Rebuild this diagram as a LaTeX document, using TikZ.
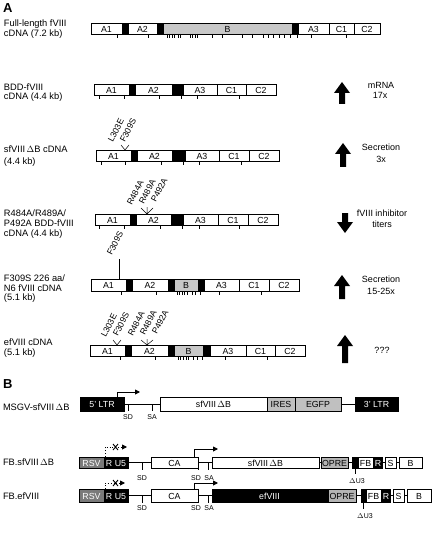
\documentclass[tikz,border=0pt]{standalone}
\usepackage{fontspec}
\setmainfont{Liberation Sans}
\usetikzlibrary{arrows.meta}
\definecolor{gB}{HTML}{C8C8C8}
\definecolor{gI}{HTML}{C0C0C0}
\definecolor{gO}{HTML}{B4B4B4}
\definecolor{gR}{HTML}{7A7A7A}
\newcommand\drawrow[3]{%
  \foreach \xa/\xb/\fc/\tx/\tc in {#3}{%
    \draw[seg, fill=\fc] (\xa,#1) rectangle (\xb,#2);
    \node[boxt, text=\tc] at ({(\xa+\xb)/2},{(#1+#2)/2+0.6}) {\tx};
  }}
\newcommand\ticks[3]{\foreach \p in {#3}{\draw[tk] (\p,#1) -- (\p,#2);}}
\newcommand\bigup[3]{\fill (#1-8,#2+11) -- (#1,#2) -- (#1+8,#2+11) -- (#1+3,#2+11) -- (#1+3,#3) -- (#1-3,#3) -- (#1-3,#2+11) -- cycle;}
\newcommand\bigdown[3]{\fill (#1-8,#3-11) -- (#1,#3) -- (#1+8,#3-11) -- (#1+3,#3-11) -- (#1+3,#2) -- (#1-3,#2) -- (#1-3,#3-11) -- cycle;}
\begin{document}
\begin{tikzpicture}[x=1pt,y=-1pt,
  every node/.style={inner sep=0pt, outer sep=0pt},
  lbl/.style={anchor=west, font=\fontsize{9.3}{10}\selectfont},
  boxt/.style={font=\fontsize{8.8}{9}\selectfont},
  rt/.style={font=\fontsize{9}{10}\selectfont},
  mut/.style={rotate=63, anchor=south west, font=\fontsize{8.6}{9}\selectfont},
  sml/.style={font=\fontsize{7}{8}\selectfont},
  pan/.style={anchor=west, font=\fontsize{13}{14}\selectfont\bfseries},
  seg/.style={draw=black, line width=0.8pt},
  tk/.style={line width=0.8pt},
  bent/.style={line width=0.9pt, -{Triangle[length=5pt,width=5pt]}},
  dbent/.style={line width=0.9pt, dotted, -{Triangle[length=5pt,width=5pt]}}]
\useasboundingbox (0,0) rectangle (432,540);
\fill[white] (0,0) rectangle (432,540);

% ---------------- Panel A
\node[pan] (pA) at (3,8) {A};

% Row 1
\node[lbl] (l1a) at (4,24) {Full-length fVIII};
\node[lbl] (l1b) at (4,34) {cDNA (7.2 kb)};
\drawrow{23}{34}{91/122/white/A1/black, 122/128/black//black, 128/157/white/A2/black, 157/163/black//black, 163/292/gB/B/black, 292/298/black//black, 298/329/white/A3/black, 329/354/white/C1/black, 354/380/white/C2/black}
\ticks{34}{38}{117,148,167,169,172,174,178,180,190,192,195,197,212,222,242,252,263,268,273,279,284,290,297,311,346}

% Row 2
\node[lbl] (l2a) at (4,87) {BDD-fVIII};
\node[lbl] (l2b) at (4,97) {cDNA (4.4 kb)};
\drawrow{84}{95}{94/129/white/A1/black, 129/135/black//black, 135/172/white/A2/black, 172/183/black//black, 183/217/white/A3/black, 217/246/white/C1/black, 246/276/white/C2/black}
\ticks{95}{99}{99,124,159,181,197,239}
\bigup{342}{82}{104}
\node[rt] (r2a) at (381,85) {mRNA};
\node[rt] (r2b) at (380,95) {17x};

% Row 3
\node[lbl] (l3a) at (4,149) {sfVIII\,$\Delta$B cDNA};
\node[lbl] (l3b) at (4,162) {(4.4 kb)};
\drawrow{150}{161}{96/131/white/A1/black, 131/137/black//black, 137/172/white/A2/black, 172/185/black//black, 185/219/white/A3/black, 219/249/white/C1/black, 249/279/white/C2/black}
\ticks{161}{165}{101,125,161,183,199,241}
\node[mut] (m3a) at (113,143) {L303E};
\node[mut] (m3b) at (125,143) {F309S};
\coordinate (c3) at (125,150);
\draw[tk, line width=0.5pt] (121,145) -- (c3) -- (129,145);
\bigup{343}{143}{167}
\node[rt] (r3a) at (381,147) {Secretion};
\node[rt] (r3b) at (381,159) {3x};

% Row 4
\node[lbl] (l4a) at (4,213) {R484A/R489A/};
\node[lbl] (l4b) at (4,223.5) {P492A BDD-fVIII};
\node[lbl] (l4c) at (4,234) {cDNA (4.4 kb)};
\drawrow{214}{225}{95/130/white/A1/black, 130/136/black//black, 136/171/white/A2/black, 171/183/black//black, 183/218/white/A3/black, 218/248/white/C1/black, 248/278/white/C2/black}
\ticks{225}{229}{99,124,160,182,199,239}
\node[mut] (m4a) at (132,206) {R484A};
\node[mut] (m4b) at (144,205) {R489A};
\node[mut] (m4c) at (156,203) {P492A};
\coordinate (c4) at (147,214);
\draw[tk, line width=0.5pt] (141,208) -- (c4) -- (153,208) (147,207) -- (c4);
\bigdown{345}{213}{233}
\node[rt] (r4a) at (382,213) {fVIII inhibitor};
\node[rt] (r4b) at (382,224) {titers};

% Row 5
\node[lbl] (l5a) at (4,278) {F309S 226 aa/};
\node[lbl] (l5b) at (4,288) {N6 fVIII cDNA};
\node[lbl] (l5c) at (4,298) {(5.1 kb)};
\drawrow{279}{291}{91/126/white/A1/black, 126/132/black//black, 132/168/white/A2/black, 168/174/black//black, 174/198/gB/B/black, 198/204/black//black, 204/239/white/A3/black, 239/269/white/C1/black, 269/299/white/C2/black}
\ticks{291}{295}{121,156,177,179,182,184,187,192,195,200,219,261}
\node[mut] (m5a) at (112,256) {F309S};
\coordinate (c5) at (119,279);
\draw[tk, line width=0.5pt] (119,259) -- (c5);
\bigup{342}{275}{299}
\node[rt] (r5a) at (381,279) {Secretion};
\node[rt] (r5b) at (381,291) {15-25x};

% Row 6
\node[lbl] (l6a) at (4,342) {efVIII cDNA};
\node[lbl] (l6b) at (4,353) {(5.1 kb)};
\drawrow{345}{356}{90/125/white/A1/black, 125/131/black//black, 131/168/white/A2/black, 168/174/black//black, 174/203/gB/B/black, 203/210/black//black, 210/246/white/A3/black, 246/275/white/C1/black, 275/305/white/C2/black}
\ticks{356}{360}{120,155,178,180,183,186,188,193,197,202,225,267}
\node[mut] (m6a) at (106,338) {L303E};
\node[mut] (m6b) at (118,337) {F309S};
\node[mut] (m6c) at (133,337) {R484A};
\node[mut] (m6d) at (145,336) {R489A};
\node[mut] (m6e) at (157,335) {P492A};
\coordinate (c6a) at (117,345);
\coordinate (c6b) at (147,345);
\draw[tk, line width=0.5pt] (113,340) -- (c6a) -- (121,340);
\draw[tk, line width=0.5pt] (141,340) -- (c6b) -- (153,340) (147,339) -- (c6b);
\bigup{345}{335}{363}
\node[rt] (r6a) at (382,350) {???};

% ---------------- Panel B
\node[pan] (pB) at (3,384) {B};

% MSGV
\node[lbl] (lm) at (3,407) {MSGV-sfVIII\,$\Delta$B};
\draw[tk] (124,404) -- (160,404) (341,404) -- (355,404);
\draw[tk] (128,404) -- (128,411) (152,404) -- (152,411);
\node[sml] (sd0) at (128,417) {SD};
\node[sml] (sa0) at (152,417) {SA};
\drawrow{397}{411}{80/124/black/5' LTR/white, 160/267/white/sfVIII\,$\Delta$B/black, 267/295/gI/IRES/black, 295/341/gI/EGFP/black, 355/398/black/3' LTR/white}
\coordinate (pm) at (117,397);
\coordinate (pm2) at (140,392);
\draw[bent] (pm) -- (117,392) -- (pm2);

% FB.sfVIIIdB
\node[lbl] (lf1) at (3,462) {FB.sfVIII\,$\Delta$B};
\draw[tk] (128,462.5) -- (151,462.5) (198,462.5) -- (212,462.5) (319,462.5) -- (321,462.5) (348,462.5) -- (352,462.5) (382,462.5) -- (385,462.5) (396,462.5) -- (399,462.5);
\draw[tk] (142,462.5) -- (142,470) (198,468) -- (198,470) (208,462.5) -- (208,470) (355,468) -- (355,474);
\node[sml] (sd1) at (142,478) {SD};
\node[sml] (sd2) at (196,478) {SD};
\node[sml] (sa1) at (209,478) {SA};
\node[sml] (du1) at (357,481) {$\Delta$U3};
\drawrow{457}{468}{79/104/gR/RSV/white, 104/128/black/R U5/white, 151/198/white/CA/black, 212/319/white/sfVIII\,$\Delta$B/black, 321/348/gO/OPRE/black, 352/358/black//white, 358/373/white/FB/black, 374/382/black/R/white, 385/396/white/S/black, 399/422/white/B/black}
\coordinate (x1) at (105,457);
\coordinate (x1e) at (127,447);
\draw[dbent] (x1) -- (105,447) -- (x1e);
\draw[line width=0.9pt] (113,444) -- (118,450) (113,450) -- (118,444);
\coordinate (ca1) at (194,457);
\coordinate (ca1e) at (218,449);
\draw[bent] (ca1) -- (194,449) -- (ca1e);

% FB.efVIII
\node[lbl] (lf2) at (3,496) {FB.efVIII};
\draw[tk] (128,495.5) -- (151,495.5) (198,495.5) -- (212,495.5) (356,495.5) -- (361,495.5) (390,495.5) -- (393,495.5) (404,495.5) -- (407,495.5);
\draw[tk] (142,495.5) -- (142,503) (198,502) -- (198,503) (208,495.5) -- (208,503) (363,502) -- (363,509);
\node[sml] (sd3) at (142,508) {SD};
\node[sml] (sd4) at (196,508) {SD};
\node[sml] (sa2) at (209,508) {SA};
\node[sml] (du2) at (365,516) {$\Delta$U3};
\drawrow{489}{502}{79/104/gR/RSV/white, 104/128/black/R U5/white, 151/198/white/CA/black, 212/327/black/efVIII/white, 328/356/gO/OPRE/black, 361/366/black//white, 366/381/white/FB/black, 382/390/black/R/white, 393/404/white/S/black, 407/431/white/B/black}
\coordinate (x2) at (105,489);
\coordinate (x2e) at (125,483);
\draw[dbent] (x2) -- (105,483) -- (x2e);
\draw[line width=0.9pt] (113,480) -- (118,486) (113,486) -- (118,480);
\coordinate (ca2) at (194,489);
\coordinate (ca2e) at (218,483);
\draw[bent] (ca2) -- (194,483) -- (ca2e);
\end{tikzpicture}
\end{document}
